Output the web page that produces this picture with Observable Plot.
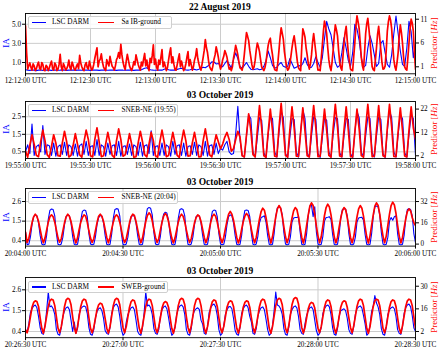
<!DOCTYPE html>
<html><head><meta charset="utf-8">
<script src="https://cdn.jsdelivr.net/npm/d3@7"></script>
<script src="https://cdn.jsdelivr.net/npm/@observablehq/plot@0.6"></script>
<style>
body{margin:0;background:#fff;}
#root{position:relative;width:440px;height:352px;overflow:hidden;font-family:"Liberation Serif",serif;color:#000;}
.title{position:absolute;left:0;width:440px;text-align:center;font-weight:bold;font-size:9.5px;line-height:12px;}
.legend{position:absolute;border:0.8px solid #cfcfcf;border-radius:2px;background:rgba(255,255,255,0.85);height:10.5px;}
.lg-line{position:absolute;height:1.5px;top:4.7px;}
.lg-text{position:absolute;top:0;font-size:7.3px;line-height:10.5px;white-space:nowrap;}
.ylab{position:absolute;white-space:nowrap;transform:translate(-50%,-50%) rotate(-90deg);font-size:9px;line-height:10px;}
svg{position:absolute;left:0;}
</style></head>
<body><div id="root"></div>
<script>
// ---------- Panel 1 : 22 August 2019 (blue 1 s samples, red 0.5 s samples) ----------
const xLabels1 = ["12:12:00 UTC","12:12:30 UTC","12:13:00 UTC","12:13:30 UTC","12:14:00 UTC","12:14:30 UTC","12:15:00 UTC"];
const xTicks1 = [0,30,60,90,120,150,180];
const leftTicks1 = [1,3,5], leftLabels1 = ["1.0","3.0","5.0"];
const rightTicks1 = [1,6,11], rightLabels1 = ["1","6","11"];
const blue1 = [0.25,
 0.2,0.18,0.22,0.2,0.15,0.2,0.22,0.18,0.2,0.21,
 0.2,0.18,0.22,0.2,0.19,0.2,0.23,0.2,0.18,0.2,
 0.2,0.22,0.18,0.2,0.21,0.19,0.2,0.22,0.2,0.18,
 0.2,0.22,0.2,0.18,0.2,0.21,0.2,0.19,0.22,0.2,
 0.2,0.18,0.2,0.22,0.2,0.19,0.2,0.21,0.2,0.18,
 0.2,0.22,0.2,0.3,0.4,0.45,0.3,0.22,0.2,0.19,
 0.2,0.22,0.2,0.3,0.38,0.25,0.2,0.22,0.2,0.28,
 0.35,0.4,0.3,0.22,0.2,0.25,0.32,0.28,0.22,0.3,
 0.4,0.5,0.45,0.6,0.8,1.07,1.05,0.85,0.9,0.7,
 0.55,0.9,1.2,0.8,0.45,1.3,2.0,1.4,0.6,0.4,
 0.7,1.0,0.6,0.3,0.25,0.3,0.35,0.25,0.3,0.6,
 1.2,2.2,1.5,0.7,0.4,0.5,0.8,1.0,0.6,0.5,
 0.6,1.4,0.9,0.4,0.5,0.7,0.6,0.9,1.5,0.8,
 0.45,0.5,0.9,1.6,1.0,0.5,1.5,3.5,5.3,4.5,
 3.9,2.5,1.0,0.5,0.7,2.0,3.6,2.5,1.2,0.6,
 2.0,5.0,4.5,3.3,1.5,0.5,0.7,2.5,3.8,3.0,
 1.8,0.6,0.9,3.0,3.3,2.0,0.8,0.5,1.8,4.0,
 5.86,4.0,2.2,0.8,0.6,2.5,5.3,4.2,1.5,3.0];
const red1 = [9.6,
 4.0,0.5,1.2,1.8,0.9,0.3,1.6,1.2,0.2,0.6,
 1.4,2.0,0.7,0.4,1.9,1.5,0.3,0.2,1.3,1.0,
 0.2,0.8,1.6,2.2,0.6,0.3,1.8,1.4,0.2,0.5,
 1.5,3.6,1.0,0.2,1.7,1.1,0.3,0.6,1.2,2.4,
 0.9,0.4,2.0,1.3,0.5,0.3,1.1,1.6,0.6,3.4,
 1.8,1.0,0.4,0.2,1.4,1.9,0.8,0.5,2.2,1.2,
 0.3,0.6,1.5,2.8,3.9,5.0,1.0,2.2,2.6,3.7,
 2.0,1.0,0.5,0.2,2.5,1.8,1.2,3.2,2.0,1.1,
 0.8,0.3,1.2,2.5,3.0,4.0,2.8,5.7,3.5,2.0,
 1.0,0.4,2.2,3.6,2.4,1.2,0.6,0.2,1.0,2.1,
 1.4,3.5,2.5,1.5,0.8,0.3,2.0,1.2,2.6,3.8,
 1.2,2.4,0.9,0.2,2.8,1.9,3.4,5.6,1.5,2.6,
 0.9,0.3,2.4,1.5,3.0,4.6,1.0,2.0,1.1,0.2,
 0.8,2.3,3.8,5.0,1.8,3.1,1.5,0.4,0.3,1.4,
 2.6,3.7,1.0,2.2,1.2,0.2,0.6,1.6,3.0,4.2,
 1.2,2.5,1.4,0.3,1.0,2.4,3.2,4.8,2.8,1.7,
 0.8,0.3,1.6,3.0,4.5,6.7,5.0,4.0,2.2,1.0,
 0.5,0.2,1.2,2.6,3.5,5.2,4.2,3.0,1.5,0.5,
 1.2,2.5,3.2,4.4,3.8,3.0,1.6,0.5,0.8,0.2,
 1.0,2.8,4.0,5.5,4.6,3.5,2.0,0.8,0.6,0.3,
 1.5,3.6,6.0,8.2,7.4,6.5,4.5,3.0,1.4,0.5,
 1.0,2.4,4.5,6.0,5.2,4.2,2.5,1.0,0.6,0.2,
 0.8,2.0,3.8,5.5,6.5,7.0,5.0,3.5,1.5,0.4,
 0.3,0.2,2.0,4.5,7.2,9.2,8.0,6.8,4.2,2.5,
 1.0,0.3,0.6,1.5,3.2,5.0,6.5,7.5,5.8,4.0,
 2.0,0.8,0.4,0.2,5.0,9.0,8.2,7.2,5.0,3.5,
 1.8,0.5,1.6,3.5,6.2,8.0,6.0,4.0,1.8,0.3,
 0.4,0.2,2.8,5.5,8.5,10.6,9.5,8.0,5.0,2.5,
 1.0,0.2,2.0,4.5,7.5,9.8,8.8,7.5,4.5,2.0,
 0.8,0.3,3.0,6.0,8.2,9.5,6.5,4.0,2.0,0.5,
 0.3,0.2,3.2,6.0,9.5,11.7,10.5,9.0,6.0,3.0,
 1.2,0.3,4.0,8.0,10.0,11.2,9.0,6.5,3.5,1.0,
 0.4,0.2,2.5,5.0,7.8,9.5,7.0,4.5,2.0,0.5,
 0.6,1.2,4.5,8.5,10.5,11.7,10.8,9.0,5.5,2.5,
 1.0,0.3,2.0,4.0,7.5,9.8,8.2,6.0,3.0,1.0,
 0.5,0.3,3.0,6.0,9.0,11.0,10.2,8.5,4.0,0.5];

// ---------- Panel 2 : 03 October 2019, 19:55 (1 s samples) ----------
const xLabels2 = ["19:55:00 UTC","19:55:30 UTC","19:56:00 UTC","19:56:30 UTC","19:57:00 UTC","19:57:30 UTC","19:58:00 UTC"];
const xTicks2 = [0,30,60,90,120,150,180];
const leftTicks2 = [0.5,1.5,2.5], leftLabels2 = ["0.5","1.5","2.5"];
const rightTicks2 = [2,12,22], rightLabels2 = ["2","12","22"];
const blue2 = [0.5,
 0.9,0.4,2.09,0.3,0.8, 0.9,0.5,2.0,0.35,0.9, 0.85,0.3,1.0,0.25,0.8, 0.9,0.35,1.05,0.3,0.9,
 0.8,0.3,0.95,0.25,0.85, 0.95,0.35,1.1,0.3,0.8, 0.85,0.3,1.2,0.3,0.9, 0.8,0.25,1.0,0.35,0.85,
 0.9,0.3,1.1,0.25,0.8, 0.85,0.35,0.95,0.3,0.9, 0.8,0.3,1.05,0.25,0.85, 0.9,0.4,1.7,0.3,0.8,
 0.85,0.3,1.0,0.3,0.9, 0.8,0.25,1.1,0.35,0.85, 0.9,0.3,1.0,0.25,0.8, 0.85,0.35,1.05,0.3,0.9,
 0.8,0.3,1.1,0.25,0.85, 0.9,0.35,1.0,0.4,0.7, 0.6,0.9,1.1,0.5,0.35, 0.4,1.5,3.1,1.2,0.3,
 0.2,1.4,2.6,2.4,0.5, 0.2,1.3,2.45,2.3,0.45, 0.18,1.5,2.5,2.4,0.5, 0.2,1.6,2.8,2.45,0.4,
 0.18,1.3,2.4,2.35,0.5, 0.2,1.7,2.9,2.4,0.45, 0.2,1.4,2.5,2.35,0.4, 0.18,1.3,2.4,2.3,0.5,
 0.2,1.5,2.45,2.4,0.45, 0.2,1.4,2.4,2.35,0.4, 0.18,1.6,2.8,2.45,0.5, 0.2,1.4,2.5,2.4,0.45,
 0.2,1.4,2.5,2.35,0.4, 0.18,1.7,2.85,2.45,0.5, 0.2,1.5,2.6,2.4,0.45, 0.2,1.5,2.6,2.4,0.3];
const red2 = [4,
 1.4,6.5,11,7,2.2, 1.6,8,13,8.5,2.5, 1.3,6,11,7.5,2.0, 1.8,7.5,12.5,8,1.5,
 2.2,6.5,11.5,7,2.4, 1.4,8,13,9,2.0, 1.5,9,14,8,1.6, 2.0,7,12,7.5,2.2,
 1.3,8.5,13.5,9,1.8, 2.4,6.5,11.5,7,1.4, 1.6,7.5,12.5,8,2.5, 1.5,7,12,8.5,2.0,
 1.4,8,13,8,1.6, 2.1,7,12,7.5,2.2, 1.3,8,13,8.5,1.8, 2.0,7.5,12,7,1.5,
 1.6,8.5,13.5,8,2.4, 1.5,6.5,11,8,5, 7,10,12,9,4, 5,9,12.5,10,2.0,
 1.5,11,20,13,2.5, 1.5,13,23.5,14,2.0, 1.4,12,22,13,1.8, 1.6,14,24.5,13.5,2.2,
 1.4,13,23,14,1.8, 1.7,12,22.5,12.5,2.0, 1.5,13.5,23.5,14,1.6, 1.8,12,22,13,2.2,
 1.4,14,24,14.5,1.9, 1.6,13,23,13,1.7, 1.5,12,22,13.5,2.1, 1.4,14,24,14,1.6,
 1.8,13,23.5,13,2.0, 1.5,14,24,14.5,1.7, 1.6,12.5,22.5,13,1.9, 1.5,13,23,14,9];

// ---------- Panel 3 : 03 October 2019, 20:04 (0.5 s samples) ----------
const xLabels3 = ["20:04:00 UTC","20:04:30 UTC","20:05:00 UTC","20:05:30 UTC","20:06:00 UTC"];
const xTicks3 = [0,30,60,90,120];
const leftTicks3 = [0.4,1.5,2.6], leftLabels3 = ["0.4","1.5","2.6"];
const rightTicks3 = [0,16,32], rightLabels3 = ["0","16","32"];
const blue3 = [0.9,
 0.18,0.2,0.6,1.3,1.75,1.85,1.8,1.4,0.7,0.22,
 0.16,0.2,0.7,1.6,2.1,2.18,2.15,1.8,0.8,0.2,
 0.16,0.22,0.6,1.3,1.75,1.85,1.8,1.4,0.65,0.2,
 0.16,0.2,0.7,1.55,2.05,2.12,2.1,1.75,0.8,0.22,
 0.17,0.2,0.6,1.3,1.7,1.82,1.78,1.4,0.7,0.2,
 0.16,0.2,0.75,1.65,2.15,2.2,2.18,1.8,0.8,0.2,
 0.16,0.22,0.6,1.3,1.75,1.82,1.78,1.4,0.7,0.2,
 0.16,0.2,0.75,1.7,2.2,2.26,2.22,1.85,0.85,0.22,
 0.17,0.2,0.65,1.45,1.9,2.0,1.95,1.55,0.75,0.2,
 0.16,0.2,0.7,1.65,2.15,2.2,2.15,1.8,0.8,0.2,
 0.16,0.22,0.6,1.3,1.75,1.82,1.78,1.4,0.7,0.2,
 0.16,0.2,0.7,1.55,2.05,2.12,2.1,1.75,0.8,0.22,
 0.17,0.2,0.6,1.3,1.75,1.85,1.8,1.4,0.7,0.2,
 0.16,0.2,0.7,1.6,2.1,2.12,2.1,1.75,0.8,0.2,
 0.16,0.22,0.65,1.4,1.7,1.75,1.8,1.45,0.7,0.2,
 0.16,0.2,0.8,1.75,2.25,2.3,2.25,1.85,0.85,0.22,
 0.16,0.2,0.6,1.45,1.68,1.7,1.7,1.75,0.9,0.2,
 0.16,0.2,0.8,1.8,2.35,2.4,1.75,2.3,0.9,0.22,
 0.16,0.2,0.65,1.5,1.7,1.72,1.75,1.6,0.75,0.2,
 0.16,0.2,0.75,1.65,2.15,2.2,2.18,1.8,0.8,0.2,
 0.16,0.22,0.6,1.45,1.68,1.7,1.72,1.55,0.75,0.2,
 0.16,0.2,0.8,1.75,2.3,2.35,2.3,1.85,0.85,0.22,
 0.16,0.2,0.6,1.5,1.7,1.55,1.75,1.8,0.8,0.2,
 0.16,0.2,0.7,1.65,2.15,2.2,2.15,1.8,0.8,0.3];
const red3 = [9,
 1.2,4,10,16,20.5,22.5,21,17,11,5,
 1.0,4.5,10.5,16.5,20.5,22,20.5,16.5,10.5,4.5,
 1.4,4,10,16,20.5,22.5,21,17,11,5,
 0.8,4.5,11,16.5,20,22,21,16.5,10,4.5,
 1.2,4,10,16,21,22.5,21,17,11,5,
 1.0,5,11,16.5,20.5,22,20.5,16.5,10.5,4.5,
 1.3,4,10,16,20.5,22.5,21.5,17,11,5,
 1.0,4.5,11,17,21.5,23.5,22,17.5,11,5,
 1.2,4,10.5,16.5,21,23,21.5,17,10.5,4.5,
 0.9,4.5,10.5,16.5,20.5,22.5,21,16.5,10.5,5,
 1.2,4,10,16,20,22,21,17,11,5,
 1.0,4.5,10.5,16.5,21,22.5,21,16.5,10.5,4.5,
 1.1,5,11.5,17.5,22.5,24.5,22.5,18,11.5,5,
 0.9,4.5,11,17,21,23,21.5,17.5,11,5,
 1.0,5,12,19,24.5,27,25.5,20,12.5,5.5,
 0.8,5.5,13,20.5,26.5,29,27,21,13,5.5,
 1.0,5,12.5,19.5,25,27.5,26,20.5,12.5,5,
 0.8,6,14,22,28.5,31,29,22.5,13.5,6,
 1.0,5.5,13.5,21.5,27.5,30,28,22,13.5,5.5,
 0.9,5,12.5,19.5,25,27.5,26,20,12.5,5,
 1.0,5.5,13,20.5,26.5,29,27,21,13,5.5,
 0.8,6,14,22,28.5,31,29,22.5,13.5,6,
 1.0,6,14,22.5,29,31.5,29.5,23,14,6,
 0.9,5,12,19,24.5,26.5,25,20,16,14];

// ---------- Panel 4 : 03 October 2019, 20:26 (0.5 s samples) ----------
const xLabels4 = ["20:26:30 UTC","20:27:00 UTC","20:27:30 UTC","20:28:00 UTC","20:28:30 UTC"];
const xTicks4 = [0,30,60,90,120];
const leftTicks4 = [0.4,1.5,2.6], leftLabels4 = ["0.4","1.5","2.6"];
const rightTicks4 = [2,16,30], rightLabels4 = ["2","16","30"];
const blue4 = [0.5,
 0.35,0.8,1.4,1.6,1.75,1.8,1.65,1.2,0.6,0.3,
 0.25,0.7,1.5,2.48,1.7,1.75,1.6,1.3,0.5,0.25,
 0.2,0.6,1.2,1.5,1.65,1.7,1.55,1.0,0.4,0.9,
 0.3,0.55,1.3,1.6,1.7,1.75,1.7,1.35,0.6,0.25,
 0.2,0.5,1.1,1.45,1.6,1.65,1.5,1.1,0.45,0.3,
 0.25,0.6,1.35,1.65,1.8,1.85,1.7,1.2,0.5,0.2,
 0.3,0.9,1.3,1.5,1.65,1.7,1.55,1.0,0.4,0.25,
 0.2,0.6,1.4,2.48,1.75,1.8,1.65,1.3,0.55,0.3,
 0.25,0.5,1.2,1.55,1.7,1.75,1.6,1.15,0.6,0.2,
 0.3,0.6,1.3,1.6,1.75,1.8,1.7,1.3,0.5,0.25,
 0.2,0.55,1.25,1.5,1.6,1.65,1.55,1.0,0.8,0.3,
 0.25,0.65,1.4,1.65,1.8,1.85,1.7,1.25,0.5,0.2,
 0.3,0.7,1.3,1.55,1.7,1.72,1.6,1.1,0.45,0.25,
 0.2,0.6,1.35,1.6,1.75,1.8,1.65,1.2,0.9,0.3,
 0.25,0.55,1.2,1.5,1.65,1.7,1.55,1.05,0.5,0.2,
 0.3,0.7,1.5,2.48,1.8,1.75,1.6,1.3,0.55,0.25,
 0.2,0.6,1.3,1.55,1.7,1.75,1.65,1.2,0.5,0.3,
 0.25,0.8,1.25,1.5,1.65,1.7,1.55,1.0,0.45,0.2,
 0.3,0.6,1.35,1.6,1.75,1.8,1.7,1.3,0.6,0.25,
 0.2,0.55,1.2,1.5,1.55,1.6,1.5,1.1,0.5,0.3,
 0.25,0.65,1.3,1.6,1.7,1.75,1.65,1.25,0.8,0.2,
 0.3,0.7,1.45,1.75,2.3,1.9,1.7,1.3,0.55,0.25,
 0.2,0.6,1.3,1.55,1.65,1.7,1.6,1.2,0.5,0.3,
 0.25,0.65,1.35,1.65,1.8,1.85,1.7,1.25,0.6,0.4];
const red4 = [3,
 1.2,5,11,17,20,21,20.5,17.5,10.5,4,
 1.0,5.5,11.5,17.5,21,22,21.5,18,11,4,
 1.3,5,11,17.5,21.5,22.5,22,18.5,11,4.5,
 0.9,5,11.5,17.5,21,22,21.5,18,10.5,4,
 1.2,4.5,10,15.5,18.5,19.5,19,16,10,4,
 1.0,5,11.5,18,21.5,22.5,22,18.5,11,4.5,
 1.3,5,11,17,20.5,21.5,21,17.5,10.5,4,
 1.0,5.5,11.5,17.5,21,22,21.5,18,11,4,
 1.2,5,10.5,16.5,19.5,20.5,20,17,10.5,4,
 0.9,5,11.5,18,21.5,22.5,22,18.5,11,4.5,
 1.2,5.5,11.5,18,21.5,22.5,22,18,11,4,
 1.0,5,11,17,20.5,21.5,21,17.5,10.5,4,
 1.3,5,11,17,20,21,20.5,17.5,10.5,4,
 1.0,5,11,17,20,21,20.5,17,10.5,4.5,
 1.2,5.5,11.5,17.5,21,22,21.5,18,11,4,
 0.9,5,11.5,18,21.5,22.5,22,18.5,11,4,
 1.2,5.5,12,18.5,22,23,22.5,19,11.5,4.5,
 1.0,4.5,10.5,16,19,20,19.5,16.5,10,4,
 1.3,5,11,17,20.5,21.5,21,17.5,10.5,4,
 1.0,5,11,17,20,21,20.5,17,10.5,4.5,
 1.2,5.5,11.5,17.5,21,22,21.5,18,11,4,
 0.9,5,11.5,17.5,21,22,21.5,18,11,4,
 1.2,5,11,17,20.5,21.5,21,17.5,10.5,4,
 1.0,5.5,11.5,17.5,21,22,21.5,18,11,4];

const titles = ["22 August 2019","03 October 2019","03 October 2019","03 October 2019"];
const seriesNames = ["LSC DARM"];
const predictorNames = ["Sa IB-ground","SNEB-NE (19:55)","SNEB-NE (20:04)","SWEB-ground"];

const panels = [
  {frameTop:12.5, frameH:60.3, stepB:1, stepR:0.5, blue:blue1, red:red1, xDomain:[0,180], xTicks:xTicks1, xLabels:xLabels1,
   leftDomain:[-0.18,6.12], leftTicks:leftTicks1, leftLabels:leftLabels1, rightDomain:[-0.47,12.2], rightTicks:rightTicks1, rightLabels:rightLabels1},
  {frameTop:100.7, frameH:57, stepB:1, stepR:1, blue:blue2, red:red2, xDomain:[0,180], xTicks:xTicks2, xLabels:xLabels2,
   leftDomain:[0.12,3.37], leftTicks:leftTicks2, leftLabels:leftLabels2, rightDomain:[0.84,25.25], rightTicks:rightTicks2, rightLabels:rightLabels2},
  {frameTop:187.7, frameH:57.6, stepB:0.5, stepR:0.5, blue:blue3, red:red3, xDomain:[0,120], xTicks:xTicks3, xLabels:xLabels3,
   leftDomain:[0.10,3.33], leftTicks:leftTicks3, leftLabels:leftLabels3, rightDomain:[-1.5,41.8], rightTicks:rightTicks3, rightLabels:rightLabels3},
  {frameTop:277, frameH:60.2, stepB:0.5, stepR:0.5, blue:blue4, red:red4, xDomain:[0,120], xTicks:xTicks4, xLabels:xLabels4,
   leftDomain:[0.073,3.25], leftTicks:leftTicks4, leftLabels:leftLabels4, rightDomain:[-1.83,35.4], rightTicks:rightTicks4, rightLabels:rightLabels4}
];

const root = document.getElementById("root");
const W = 440, ML = 25, MR = 25, MT = 4, MB = 16;
const fmt = (ticks, labels) => d => labels[ticks.indexOf(d)];
const gridStyle = {stroke:"#cccccc", strokeOpacity:1, strokeWidth:1};

panels.forEach((p, k) => {
  const H = p.frameH + MT + MB;
  const rowsB = p.blue.map((v, i) => ({t: i * p.stepB, v}));
  const rowsR = p.red.map((v, i) => ({t: i * p.stepR, v}));
  const common = {width: W, height: H, marginLeft: ML, marginRight: MR, marginTop: MT, marginBottom: MB,
    style: {background:"transparent", fontFamily:'"Liberation Serif", serif', fontSize:"7.2px", color:"#000", overflow:"visible"}};
  const base = Plot.plot({...common,
    x: {domain: p.xDomain, axis: null}, y: {domain: p.leftDomain, axis: null},
    marks: [
      Plot.gridX(p.xTicks, gridStyle),
      Plot.gridY(p.leftTicks, gridStyle),
      Plot.line(rowsB, {x:"t", y:"v", stroke:"#0000ff", strokeWidth:1.1, clip:true}),
      Plot.axisX(p.xTicks, {tickFormat: fmt(p.xTicks, p.xLabels), tickSize:3, tickPadding:1.5, label:null}),
      Plot.axisY(p.leftTicks, {tickFormat: fmt(p.leftTicks, p.leftLabels), tickSize:3, tickPadding:1.5, label:null})
    ]});
  const over = Plot.plot({...common,
    x: {domain: p.xDomain, axis: null}, y: {domain: p.rightDomain, axis: null},
    marks: [
      Plot.line(rowsR, {x:"t", y:"v", stroke:"#ff0000", strokeWidth:1.7, clip:true}),
      Plot.axisY(p.rightTicks, {anchor:"right", tickFormat: fmt(p.rightTicks, p.rightLabels), tickSize:3, tickPadding:2, label:null}),
      Plot.frame({stroke:"#000", strokeWidth:0.9})
    ]});
  const top = p.frameTop - MT;
  base.style.top = top + "px"; over.style.top = top + "px";
  root.appendChild(base); root.appendChild(over);

  const t = document.createElement("div");
  t.className = "title"; t.textContent = titles[k];
  t.style.top = (p.frameTop - 12) + "px";
  root.appendChild(t);

  const lg = document.createElement("div");
  lg.className = "legend";
  const lgW = k === 3 ? 138 : (k === 0 ? 142 : 148);
  lg.style.left = "28px"; lg.style.top = (p.frameTop + 3.6) + "px"; lg.style.width = lgW + "px";
  lg.innerHTML =
    '<div class="lg-line" style="left:3px;width:14px;background:#0000ff"></div>' +
    '<div class="lg-text" style="left:23px">' + seriesNames[0] + '</div>' +
    '<div class="lg-line" style="left:68.5px;width:16px;background:#ff0000"></div>' +
    '<div class="lg-text" style="left:92.5px">' + predictorNames[k] + '</div>';
  root.appendChild(lg);

  const yl = document.createElement("div");
  yl.className = "ylab"; yl.style.color = "#0000ff"; yl.textContent = "IA";
  yl.style.left = "6px"; yl.style.top = (p.frameTop + p.frameH / 2) + "px";
  root.appendChild(yl);

  const yr = document.createElement("div");
  yr.className = "ylab"; yr.style.color = "#ff0000"; yr.innerHTML = "Predictor [<i>Hz</i>]";
  yr.style.left = "433.5px"; yr.style.top = (p.frameTop + p.frameH / 2) + "px";
  root.appendChild(yr);
});
</script></body></html>
